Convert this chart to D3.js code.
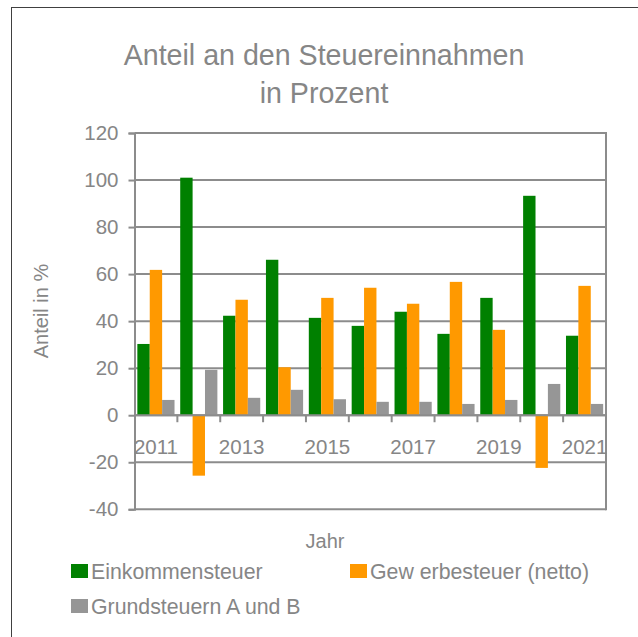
<!DOCTYPE html>
<html>
<head>
<meta charset="utf-8">
<script src="https://cdn.jsdelivr.net/npm/d3@7"></script>
<style>
  html, body { margin: 0; padding: 0; background: #fff; }
  svg { display: block; font-family: Arial, "Liberation Sans", sans-serif; }
</style>
</head>
<body>
<svg id="chart" width="638" height="637"></svg>
<script>
// Anteil an den Steuereinnahmen, 2011–2021
const years = ["2011","2012","2013","2014","2015","2016","2017","2018","2019","2020","2021"];
const einkommensteuer = [30.3, 101.0, 42.3, 66.1, 41.4, 38.0, 44.0, 34.6, 49.9, 93.3, 33.8];
const gewerbesteuer   = [61.8, -25.7, 49.1, 20.4, 49.9, 54.2, 47.4, 56.7, 36.3, -22.4, 55.0];
const grundsteuern    = [6.5, 19.3, 7.4, 10.8, 6.8, 5.7, 5.7, 4.8, 6.5, 13.3, 4.8];
const seriesNames = ["Einkommensteuer", "Gew erbesteuer (netto)", "Grundsteuern A und B"];
const seriesColors = ["#008000", "#ff9900", "#969696"];
const yTicks = [-40, -20, 0, 20, 40, 60, 80, 100, 120];
const labelledYears = ["2011","2013","2015","2017","2019","2021"];

const series = [einkommensteuer, gewerbesteuer, grundsteuern];
const textColor = "#868686";
const lineColor = "#8c8c8c";

const svg = d3.select("#chart");
svg.append("rect").attr("width", 638).attr("height", 637).attr("fill", "#fff");

// outer chart frame
svg.append("rect")
  .attr("x", 11.5).attr("y", 7.5).attr("width", 640).attr("height", 640)
  .attr("fill", "none").attr("stroke", "#404040").attr("stroke-width", 1);

const plot = { left: 134.5, right: 606, top: 133, bottom: 509.3 };

const x = d3.scaleBand().domain(years).range([plot.left, plot.right]).padding(0);
const xs = d3.scaleBand().domain(d3.range(series.length))
  .range([0, x.bandwidth()]).paddingInner(0).paddingOuter(0.23);
const y = d3.scaleLinear().domain([-40, 120]).range([plot.bottom, plot.top]);

// title
const title = svg.append("text")
  .attr("text-anchor", "middle").attr("fill", textColor)
  .style("font-size", "28.6px");
title.append("tspan").attr("x", 324).attr("y", 65).text("Anteil an den Steuereinnahmen");
title.append("tspan").attr("x", 324).attr("y", 103).text("in Prozent");

// horizontal gridlines
svg.append("g").selectAll("line").data(yTicks).join("line")
  .attr("x1", plot.left).attr("x2", plot.right)
  .attr("y1", d => y(d)).attr("y2", d => y(d))
  .attr("stroke", lineColor).attr("stroke-width", 2);

// right border of the plot area
svg.append("line")
  .attr("x1", plot.right).attr("x2", plot.right)
  .attr("y1", plot.top - 1).attr("y2", plot.bottom + 1)
  .attr("stroke", lineColor).attr("stroke-width", 2);

// bars
const barData = [];
years.forEach((yr, i) => series.forEach((s, k) => barData.push({ yr, k, v: s[i] })));
svg.append("g").selectAll("rect").data(barData).join("rect")
  .attr("x", d => x(d.yr) + xs(d.k))
  .attr("width", xs.bandwidth())
  .attr("y", d => y(Math.max(0, d.v)))
  .attr("height", d => Math.abs(y(d.v) - y(0)))
  .attr("fill", d => seriesColors[d.k]);

// y axis (plain hyphen for negative numbers)
const yAxis = svg.append("g")
  .attr("transform", `translate(${plot.left},0)`)
  .call(d3.axisLeft(y).tickValues(yTicks).tickFormat(d => String(d)).tickSize(6).tickPadding(10));
yAxis.select(".domain").attr("stroke", lineColor).attr("stroke-width", 2);
yAxis.selectAll(".tick line").attr("stroke", lineColor).attr("stroke-width", 2);
yAxis.selectAll(".tick text").attr("fill", textColor)
  .style("font-size", "20.5px").style("font-family", "Arial, 'Liberation Sans', sans-serif");

// x axis on the zero line: tick marks between categories, every other year labelled
const zeroY = y(0);
const xAxisG = svg.append("g");
xAxisG.append("line")
  .attr("x1", plot.left).attr("x2", plot.right)
  .attr("y1", zeroY).attr("y2", zeroY)
  .attr("stroke", lineColor).attr("stroke-width", 2);
xAxisG.selectAll("line.tick").data(years.slice(1)).join("line")
  .attr("class", "tick")
  .attr("x1", d => x(d)).attr("x2", d => x(d))
  .attr("y1", zeroY).attr("y2", zeroY + 7)
  .attr("stroke", lineColor).attr("stroke-width", 2);
xAxisG.selectAll("text").data(labelledYears).join("text")
  .attr("x", d => x(d) + x.bandwidth() / 2)
  .attr("y", zeroY + 39)
  .attr("text-anchor", "middle").attr("fill", textColor)
  .style("font-size", "20.5px")
  .text(d => d);

// axis titles
svg.append("text")
  .attr("transform", "translate(48,311) rotate(-90)")
  .attr("text-anchor", "middle").attr("fill", textColor)
  .style("font-size", "20px").text("Anteil in %");
svg.append("text")
  .attr("x", 325).attr("y", 548)
  .attr("text-anchor", "middle").attr("fill", textColor)
  .style("font-size", "20px").text("Jahr");

// legend
const legendPos = [[71, 564], [350, 564], [71, 599]];
const legend = svg.append("g").selectAll("g").data(seriesNames).join("g")
  .attr("transform", (d, i) => `translate(${legendPos[i][0]},${legendPos[i][1]})`);
legend.append("rect").attr("width", 17).attr("height", 14)
  .attr("fill", (d, i) => seriesColors[i]);
legend.append("text").attr("x", 20).attr("y", 15)
  .attr("fill", textColor).style("font-size", "21.3px")
  .text(d => d);
</script>
</body>
</html>
